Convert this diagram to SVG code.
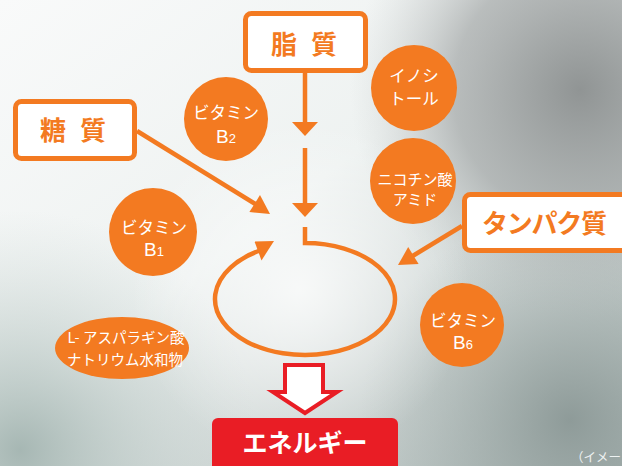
<svg xmlns="http://www.w3.org/2000/svg" width="622" height="466" viewBox="0 0 622 466">
<style>
.box{fill:#ffffff;stroke:#F37A21;stroke-width:5}
.circ{fill:#F37A21}
.bt{font-family:"Noto Sans CJK JP","Noto Sans",sans-serif;font-weight:bold;font-size:26px;fill:#F37A21}
.ct{font-family:"Noto Sans CJK JP","Noto Sans",sans-serif;font-size:16.5px;fill:#ffffff;text-anchor:middle}
.cb{font-family:"Liberation Sans","Noto Sans",sans-serif;font-size:19px;fill:#ffffff;text-anchor:middle}
.sub{font-size:13px}
.line{stroke:#F37A21;stroke-width:4.5;fill:none}
.head{fill:#F37A21}
</style>
<defs>
<linearGradient id="bg" x1="0" y1="0" x2="1" y2="1">
<stop offset="0" stop-color="#f9fafa"/>
<stop offset="0.45" stop-color="#eef2f1"/>
<stop offset="1" stop-color="#a7b3b1"/>
</linearGradient>
<radialGradient id="tr" cx="580" cy="90" r="230" gradientUnits="userSpaceOnUse">
<stop offset="0" stop-color="#8c9090" stop-opacity="0.95"/>
<stop offset="0.55" stop-color="#a2a6a6" stop-opacity="0.7"/>
<stop offset="1" stop-color="#c8cccc" stop-opacity="0"/>
</radialGradient>
<radialGradient id="bl" cx="20" cy="450" r="240" gradientUnits="userSpaceOnUse">
<stop offset="0" stop-color="#9fb1ad" stop-opacity="0.9"/>
<stop offset="1" stop-color="#c8d4d1" stop-opacity="0"/>
</radialGradient>
<radialGradient id="br" cx="570" cy="420" r="210" gradientUnits="userSpaceOnUse">
<stop offset="0" stop-color="#8a9795" stop-opacity="0.9"/>
<stop offset="1" stop-color="#a9b4b2" stop-opacity="0"/>
</radialGradient>
<radialGradient id="cc" cx="300" cy="290" r="170" gradientUnits="userSpaceOnUse">
<stop offset="0" stop-color="#ffffff" stop-opacity="0.75"/>
<stop offset="1" stop-color="#ffffff" stop-opacity="0"/>
</radialGradient>
</defs>
<g id="background">
<rect width="622" height="466" fill="url(#bg)"/>
<rect width="622" height="466" fill="url(#tr)"/>
<rect width="622" height="466" fill="url(#bl)"/>
<rect width="622" height="466" fill="url(#br)"/>
<rect width="622" height="466" fill="url(#cc)"/>
</g>
<g id="connectors">
<line class="line" x1="305" y1="72" x2="305" y2="124"/>
<polygon class="head" points="292,122 318,122 305,136"/>
<line class="line" x1="305" y1="148" x2="305" y2="205"/>
<polygon class="head" points="292,203 318,203 305,217"/>
<line class="line" x1="137" y1="131" x2="257" y2="205"/>
<polygon class="head" points="270,214 249.4,212.1 260,195.1"/>
<line class="line" x1="462" y1="226" x2="411" y2="257"/>
<polygon class="head" points="398,265 418.6,264.1 408.2,247.1"/>
<path class="line" d="M305,227 V243 A90,56 0 1 1 260,250.5"/>
<polygon class="head" points="274,241 261.5,260.4 254.5,241.6"/>
<polygon points="285,365 323,365 323,392 337,392 305,413 273,392 285,392" fill="#ffffff" stroke="#E91D25" stroke-width="4" stroke-linejoin="miter"/>
</g>
<g id="shishitsu">
<rect class="box" x="245.5" y="13.5" width="120" height="57" rx="6"/>
<text class="bt" x="271 297 311" y="54">脂 質</text>
</g>
<g id="toshitsu">
<rect class="box" x="15.5" y="101.5" width="119" height="57" rx="6"/>
<text class="bt" x="40 66 80" y="140">糖 質</text>
</g>
<g id="tanpakushitsu">
<rect class="box" x="464.5" y="194.5" width="170" height="56" rx="6"/>
<text class="bt" x="482" y="233" textLength="125">タンパク質</text>
</g>
<g id="vitb2">
<circle class="circ" cx="226" cy="119" r="42"/>
<text class="ct" x="226" y="119">ビタミン</text>
<text class="cb" x="226" y="143">B<tspan class="sub">2</tspan></text>
</g>
<g id="inositol">
<circle class="circ" cx="414" cy="88" r="43"/>
<text class="ct" x="414" y="82" style="font-size:16.5px">イノシ</text>
<text class="ct" x="414" y="105" style="font-size:16.5px">トール</text>
</g>
<g id="nicotinamide">
<circle class="circ" cx="413" cy="181" r="43"/>
<text class="ct" x="415" y="185" style="font-size:15px">ニコチン酸</text>
<text class="ct" x="415" y="205" style="font-size:15px">アミド</text>
</g>
<g id="vitb1">
<circle class="circ" cx="153" cy="232" r="44"/>
<text class="ct" x="154" y="234">ビタミン</text>
<text class="cb" x="154" y="256">B<tspan class="sub">1</tspan></text>
</g>
<g id="asparagine">
<ellipse class="circ" cx="122" cy="348" rx="67" ry="31"/>
<text class="ct" x="126" y="343" style="font-size:14.5px">L- アスパラギン酸</text>
<text class="ct" x="125" y="365" style="font-size:14.5px">ナトリウム水和物</text>
</g>
<g id="vitb6">
<circle class="circ" cx="462" cy="325" r="42"/>
<text class="ct" x="463" y="327">ビタミン</text>
<text class="cb" x="463" y="349">B<tspan class="sub">6</tspan></text>
</g>
<g id="energy">
<rect x="212" y="418" width="186" height="60" rx="6" fill="#E91D25"/>
<text x="305" y="452" text-anchor="middle" font-family="'Noto Sans CJK JP','Noto Sans',sans-serif" font-weight="bold" font-size="25" fill="#ffffff">エネルギー</text>
</g>
<text x="571" y="462" font-family="'Noto Sans CJK JP','Noto Sans',sans-serif" font-size="12.5" fill="#eef2f2">（イメー</text>
</svg>
